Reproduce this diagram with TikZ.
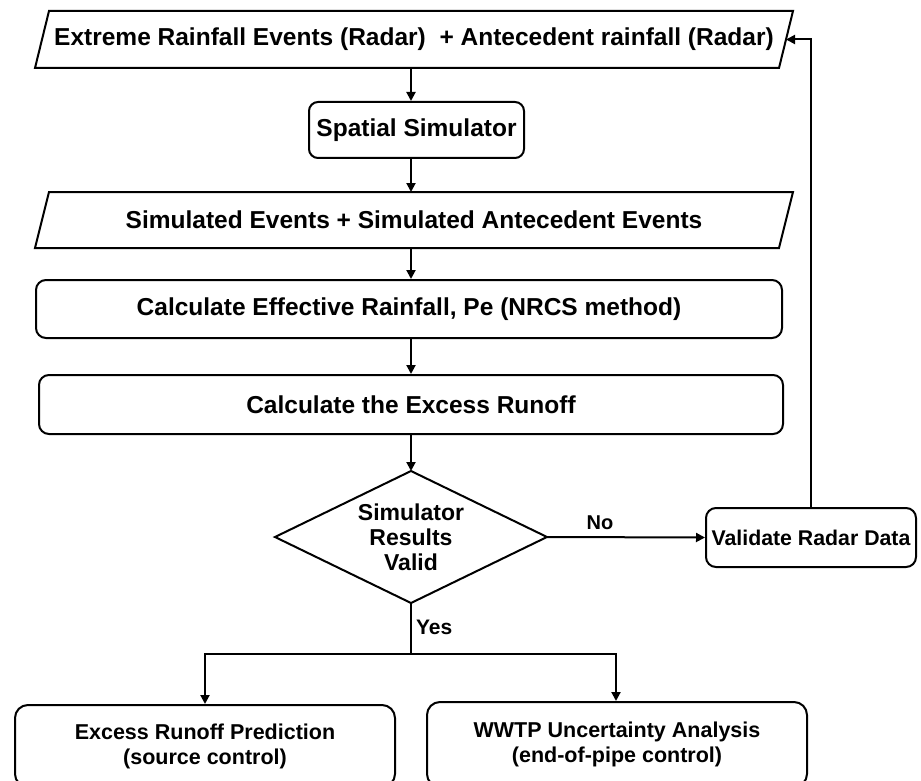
\documentclass[tikz,border=0pt]{standalone}
\usepackage{fontspec}
\setmainfont{Liberation Sans}
\usetikzlibrary{arrows.meta}
\begin{document}
\begin{tikzpicture}[x=1pt,y=1pt,line width=2pt,
  mainfont/.style={font=\fontsize{24.5}{28}\selectfont\bfseries},
  box/.style={draw, rounded corners=10pt, inner sep=0pt, align=center, mainfont},
  plainbox/.style={inner sep=0pt, align=center, mainfont},
  arr/.style={-{Triangle[length=9pt,width=9pt]}},
  lbl/.style={inner sep=0pt, font=\fontsize{21}{24}\selectfont\bfseries}]
\useasboundingbox (0,0) rectangle (921,-781);

% input parallelogram
\node[plainbox, minimum width=742pt, minimum height=55pt] (in1) at (414,-39.5)
  {Extreme Rainfall Events (Radar)\ \ + Antecedent rainfall (Radar)};
\draw[line join=miter] ([xshift=7pt]in1.north west) -- ([xshift=7pt]in1.north east)
  -- ([xshift=-7pt]in1.south east) -- ([xshift=-7pt]in1.south west) -- cycle;

\node[box, rounded corners=9pt, minimum width=215pt, minimum height=56pt] (sim) at (416.5,-130)
  {Spatial Simulator};

\node[plainbox, minimum width=742pt, minimum height=54pt] (in2) at (414,-220)
  {Simulated Events + Simulated Antecedent Events};
\draw[line join=miter] ([xshift=7pt]in2.north west) -- ([xshift=7pt]in2.north east)
  -- ([xshift=-7pt]in2.south east) -- ([xshift=-7pt]in2.south west) -- cycle;

\node[box, minimum width=746pt, minimum height=58pt] (eff) at (409,-309)
  {Calculate Effective Rainfall, Pe (NRCS method)};

\node[box, minimum width=744pt, minimum height=59pt] (exc) at (411,-404.5)
  {Calculate the Excess Runoff};

% decision diamond
\node[inner sep=0pt, minimum width=270pt, minimum height=130pt, align=center,
  font=\fontsize{23}{25}\selectfont\bfseries] (dia) at (411,-537)
  {Simulator\\Results\\Valid};
\draw[line join=miter] (dia.north) -- (dia.east) -- (dia.south) -- (dia.west) -- cycle;

\node[draw, rounded corners=10pt, inner sep=0pt, minimum width=210pt, minimum height=59pt,
  font=\fontsize{21.3}{24}\selectfont\bfseries] (val) at (811,-537.5) {Validate Radar Data};

\node[draw, rounded corners=13pt, inner sep=0pt, minimum width=380pt, minimum height=82pt,
  align=center, font=\fontsize{21.5}{25}\selectfont\bfseries] (out1) at (205,-746)
  {Excess Runoff Prediction\\(source control)};
\node[draw, rounded corners=13pt, inner sep=0pt, minimum width=380pt, minimum height=85pt,
  align=center, font=\fontsize{21.5}{25}\selectfont\bfseries] (out2) at (617,-744.5)
  {WWTP Uncertainty Analysis\\(end-of-pipe control)};

\coordinate (br) at (411,-654);

% connectors
\draw[arr] (in1.south -| dia.north) -- (sim.north -| dia.north);
\draw[arr] (sim.south -| dia.north) -- (in2.north -| dia.north);
\draw[arr] (in2.south -| dia.north) -- (eff.north -| dia.north);
\draw[arr] (eff.south -| dia.north) -- (exc.north -| dia.north);
\draw[arr] (exc.south -| dia.north) -- (dia.north);
\draw[arr] (dia.east) -- (val.west);
\draw[arr] (val.north) |- (in1.east);
\draw (dia.south) -- (br);
\draw[arr] (br) -| (out1.north);
\draw[arr] (br) -| ([xshift=-1pt]out2.north);

\node[lbl, font=\fontsize{20}{24}\selectfont\bfseries] (no) at (600,-523) {No};
\node[lbl, anchor=west] (yes) at (415,-627) {Yes};
\end{tikzpicture}
\end{document}
